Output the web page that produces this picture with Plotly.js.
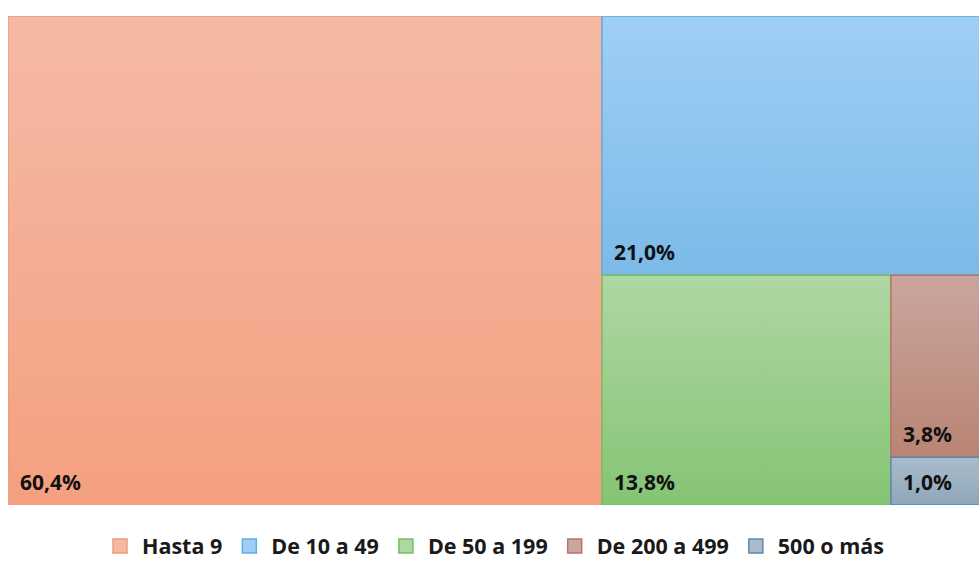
<!DOCTYPE html>
<html>
<head>
<meta charset="utf-8">
<script src="https://cdn.plot.ly/plotly-3.0.1.min.js"></script>
<style>html,body{margin:0;padding:0;background:#fff;}#chart{width:979px;height:561px;}</style>
</head>
<body>
<div id="chart"></div>
<script>
const categories = ['Hasta 9', 'De 10 a 49', 'De 50 a 199', 'De 200 a 499', '500 o más'];
const shares = [60.4, 21.0, 13.8, 3.8, 1.0];
const shareLabels = ['60,4%', '21,0%', '13,8%', '3,8%', '1,0%'];
const topColors = ['#F5BAA6', '#A0CFF5', '#AFD7A2', '#CBA69E', '#AABCCB'];
const bottomColors = ['#F4A080', '#7BBAE8', '#85C475', '#B98474', '#8FA6B9'];
const borderColors = ['#F39C74', '#5DADE2', '#78BC64', '#B57664', '#5E89A6'];

// slice-and-dice tiling computed from the values
const total = shares.reduce((a, b) => a + b, 0);
let rx0 = 0, rx1 = total, ry0 = 0, ry1 = total;
let remaining = total;
const rects = [];
shares.forEach((v, i) => {
  if (i === shares.length - 1) {
    rects.push([rx0, rx1, ry0, ry1]);
    return;
  }
  const f = v / remaining;
  if (i % 2 === 0) {
    const xm = rx0 + (rx1 - rx0) * f;
    rects.push([rx0, xm, ry0, ry1]);
    rx0 = xm;
  } else {
    const ym = ry1 - (ry1 - ry0) * f;
    rects.push([rx0, rx1, ym, ry1]);
    ry1 = ym;
  }
  remaining -= v;
});

const traces = [];
rects.forEach((r, i) => {
  traces.push({
    type: 'scatter', mode: 'lines',
    x: [r[0], r[1], r[1], r[0], r[0]],
    y: [r[2], r[2], r[3], r[3], r[2]],
    fill: 'toself',
    fillgradient: {type: 'vertical', colorscale: [[0, bottomColors[i]], [1, topColors[i]]]},
    line: {color: borderColors[i], width: 1.5},
    showlegend: false, hoverinfo: 'skip'
  });
});
categories.forEach((c, i) => {
  traces.push({
    type: 'scatter', mode: 'markers', name: c,
    x: [null], y: [null],
    marker: {symbol: 'square', size: 14, color: topColors[i], line: {color: borderColors[i], width: 1.5}},
    hoverinfo: 'skip'
  });
});

const annotations = rects.map((r, i) => ({
  x: r[0], y: r[2], xref: 'x', yref: 'y',
  xanchor: 'left', yanchor: 'bottom',
  xshift: 10, yshift: 7,
  text: shareLabels[i], showarrow: false,
  font: {family: 'Open Sans, sans-serif', size: 21, color: '#111', weight: 'bold'}
}));

const layout = {
  width: 979, height: 561,
  margin: {l: 8, r: 0, t: 16, b: 56, autoexpand: false},
  paper_bgcolor: '#fff', plot_bgcolor: '#fff',
  xaxis: {range: [0, total * 971 / 983.4], visible: false, fixedrange: true},
  yaxis: {range: [0, total], visible: false, fixedrange: true},
  showlegend: true,
  legend: {
    orientation: 'h', x: 0.5, xanchor: 'center', y: -0.084, yanchor: 'middle',
    font: {family: 'Open Sans, sans-serif', size: 21.5, color: '#1a1a1a', weight: 'bold'},
    itemwidth: 34,
    itemclick: false, itemdoubleclick: false, borderwidth: 0
  },
  annotations: annotations,
  hovermode: false
};

Plotly.newPlot('chart', traces, layout, {displayModeBar: false, staticPlot: true});
</script>
</body>
</html>
